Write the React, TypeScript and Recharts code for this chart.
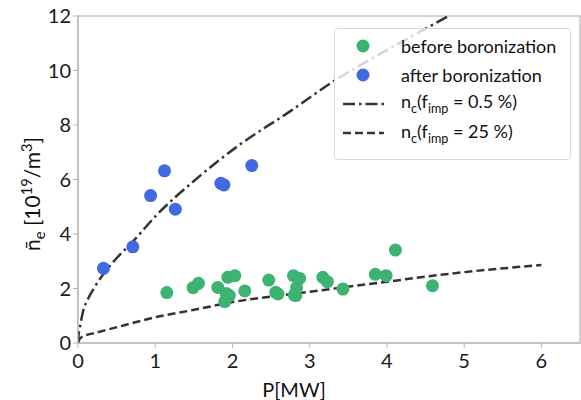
import {
  ComposedChart,
  Scatter,
  Line,
  XAxis,
  YAxis,
  ReferenceArea,
  Legend,
} from "recharts"

const beforeP = [1.15, 1.49, 1.56, 1.81, 1.94, 2.03, 1.92, 1.96, 1.9, 2.16, 2.47, 2.56, 2.59, 2.79, 2.8, 2.87, 2.83, 2.82, 3.17, 3.23, 3.43, 3.85, 3.99, 4.11, 4.59]
const beforeN = [1.85, 2.03, 2.19, 2.04, 2.41, 2.47, 1.82, 1.74, 1.52, 1.91, 2.31, 1.86, 1.8, 2.47, 1.76, 2.37, 2.03, 1.74, 2.41, 2.25, 1.98, 2.52, 2.47, 3.41, 2.1]

const afterP = [0.33, 0.71, 0.94, 1.12, 1.26, 1.85, 1.89, 2.25]
const afterN = [2.74, 3.53, 5.41, 6.32, 4.91, 5.86, 5.8, 6.51]

// critical density curves, read at a few powers
const curveLowP = [0, 0.01, 0.026, 0.07, 0.13, 0.22, 0.44, 0.69, 1.04, 1.49, 2.09, 2.74, 3.3, 4.0, 4.76, 5.3]
const curveLowN = [0, 0.35, 0.6, 1.21, 1.62, 2.07, 2.92, 3.66, 4.76, 5.92, 7.27, 8.49, 9.59, 10.75, 11.94, 12.8]
const curveHighP = [0, 0.026, 0.1, 0.22, 0.61, 1.04, 1.49, 2, 3, 4, 5, 6]
const curveHighN = [0, 0.17, 0.28, 0.37, 0.66, 0.97, 1.21, 1.5, 1.88, 2.25, 2.6, 2.86]

const xTicks = [0, 1, 2, 3, 4, 5, 6]
const yTicks = [0, 2, 4, 6, 8, 10, 12]

const toPoints = (xs: number[], ys: number[]) => xs.map((x, i) => ({ x, y: ys[i] }))

const before = toPoints(beforeP, beforeN)
const after = toPoints(afterP, afterN)
const curveLow = toPoints(curveLowP, curveLowN)
const curveHigh = toPoints(curveHighP, curveHighN)

const GREEN = "#3cb371"
const BLUE = "#4169e1"
const LINE = "#333333"
const DASHDOT = "12 4 2.5 4"
const DASHED = "8 4"
const FONT = "Lato, 'DejaVu Sans', sans-serif"

const dot = (color: string) => (props: any) =>
  <circle cx={props.cx} cy={props.cy} r={6.5} fill={color} />

const sub = { fontSize: "0.7em" }

const legendItems = [
  { kind: "dot", color: GREEN, label: <>before boronization</> },
  { kind: "dot", color: BLUE, label: <>after boronization</> },
  {
    kind: "line",
    dash: DASHDOT,
    label: <>n<sub style={sub}>c</sub>(f<sub style={sub}>imp</sub> = 0.5 %)</>,
  },
  {
    kind: "line",
    dash: DASHED,
    label: <>n<sub style={sub}>c</sub>(f<sub style={sub}>imp</sub> = 25 %)</>,
  },
]

function LegendBox() {
  return (
    <div
      style={{
        border: "1px solid #d8d8d8",
        borderRadius: 4,
        background: "rgba(255,255,255,0.8)",
        padding: "2px 0 11px",
        fontFamily: FONT,
        fontSize: 18,
        color: "#111",
      }}
    >
      {legendItems.map((it, i) => (
        <div key={i} style={{ display: "flex", alignItems: "center", height: 29.2 }}>
          <svg width={66} height={20} style={{ flex: "none" }}>
            {it.kind === "dot" ? (
              <circle cx={28} cy={10} r={6.5} fill={it.color} />
            ) : (
              <line x1={8} y1={10} x2={49} y2={10} stroke={LINE} strokeWidth={2.5} strokeDasharray={it.dash} />
            )}
          </svg>
          <span style={{ whiteSpace: "nowrap", lineHeight: 1 }}>{it.label}</span>
        </div>
      ))}
    </div>
  )
}

export default function App() {
  const tick = { fill: "#1a1a1a", fontSize: 20, fontFamily: FONT }
  return (
    <div style={{ position: "absolute", left: 0, top: 0, width: 581, height: 400, background: "#fff" }}>
      <ComposedChart width={581} height={400} margin={{ top: 16, right: 1, bottom: 17, left: 0 }}>
        <XAxis
          dataKey="x"
          type="number"
          domain={[0, 6.5]}
          ticks={xTicks}
          allowDataOverflow
          height={40}
          tickSize={5}
          tickMargin={6}
          tick={tick}
          stroke="#b5b5b5"
        />
        <YAxis
          type="number"
          domain={[0, 12]}
          ticks={yTicks}
          allowDataOverflow
          width={78}
          tickSize={5}
          tickMargin={2}
          tick={tick}
          stroke="#b5b5b5"
        />
        <ReferenceArea x1={0} x2={6.5} y1={0} y2={12} fill="none" stroke="#c4c4c4" strokeWidth={1.5} />
        <Line data={curveLow} dataKey="y" type="monotone" stroke={LINE} strokeWidth={2.5} strokeDasharray={DASHDOT} dot={false} isAnimationActive={false} />
        <Line data={curveHigh} dataKey="y" type="monotone" stroke={LINE} strokeWidth={2.5} strokeDasharray={DASHED} dot={false} isAnimationActive={false} />
        <Scatter data={before} dataKey="y" fill={GREEN} shape={dot(GREEN)} isAnimationActive={false} />
        <Scatter data={after} dataKey="y" fill={BLUE} shape={dot(BLUE)} isAnimationActive={false} />
        <Legend
          layout="vertical"
          align="center"
          verticalAlign="middle"
          content={() => <LegendBox />}
          wrapperStyle={{ left: 334, top: 28, width: 237 }}
        />
      </ComposedChart>
      <div
        style={{
          position: "absolute",
          left: 294,
          top: 389,
          transform: "translate(-50%, -50%)",
          fontFamily: FONT,
          fontSize: 20,
          lineHeight: 1,
          color: "#111",
          whiteSpace: "nowrap",
        }}
      >
        P[MW]
      </div>
      <div
        style={{
          position: "absolute",
          left: 33,
          top: 194,
          transform: "translate(-50%, -50%) rotate(-90deg)",
          fontFamily: FONT,
          fontSize: 21,
          lineHeight: 1,
          color: "#111",
          whiteSpace: "nowrap",
        }}
      >
        n&#772;<sub style={sub}>e</sub> [10<sup style={sub}>19</sup>/m<sup style={sub}>3</sup>]
      </div>
    </div>
  )
}
